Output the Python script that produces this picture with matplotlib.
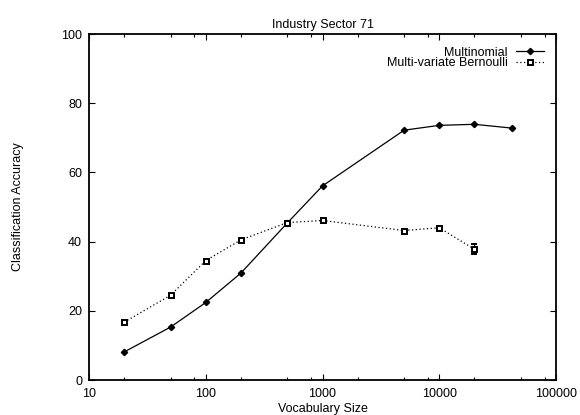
import matplotlib.pyplot as plt
from matplotlib.lines import Line2D
from matplotlib.ticker import LogLocator, NullFormatter

plt.rcParams["font.family"] = ["Liberation Sans", "DejaVu Sans"]
plt.rcParams["font.size"] = 9

vocab_multi = [20, 50, 100, 200, 500, 1000, 5000, 10000, 20000, 42000]
acc_multi = [8.1, 15.3, 22.4, 30.9, 45.4, 56.1, 72.2, 73.6, 73.9, 72.8]

vocab_bern = [20, 50, 100, 200, 500, 1000, 5000, 10000, 20000]
acc_bern = [16.7, 24.5, 34.5, 40.5, 45.5, 46.1, 43.2, 44.0, 37.8]
err_bern = [0.5, 0.5, 0.6, 0.5, 0.5, 0.6, 0.5, 0.5, 1.4]

fig = plt.figure(figsize=(5.8, 4.15), dpi=100)
ax = fig.add_axes([89 / 580, 35 / 415, 467 / 580, 346 / 415])

ax.plot(vocab_multi, acc_multi, color="black", lw=0.9, marker="D", ms=3.2)
ax.errorbar(vocab_bern, acc_bern, yerr=err_bern, color="black", lw=0.9,
            ls=(0, (1, 2)), marker="s", ms=3.6, mfc="white", mec="black",
            mew=1.4, elinewidth=0.8, capsize=2)

ax.set_xscale("log")
ax.set_xlim(10, 100000)
ax.set_ylim(0, 100)
ax.set_yticks([0, 20, 40, 60, 80, 100])
ax.set_xticks([10, 100, 1000, 10000, 100000])
ax.set_xticklabels(["10", "100", "1000", "10000", "100000"])
ax.xaxis.set_minor_locator(LogLocator(base=10, subs=(2, 5, 8)))
ax.xaxis.set_minor_formatter(NullFormatter())
ax.tick_params(which="both", direction="in", top=True, right=True)
ax.tick_params(which="major", length=4, width=0.8)
ax.tick_params(which="minor", length=2, width=0.8)
ax.tick_params(axis="x", pad=6)
ax.tick_params(axis="y", pad=5)
for s in ax.spines.values():
    s.set_linewidth(1.3)

ax.set_title("Industry Sector 71", fontsize=9, pad=4)
ax.set_xlabel("Vocabulary Size", labelpad=2)
ax.set_ylabel("Classification Accuracy", labelpad=27)

handles = [
    Line2D([], [], color="black", lw=0.9, marker="D", ms=3.2),
    Line2D([], [], color="black", lw=0.9, ls=(0, (1, 2)), marker="s", ms=3.6,
           mfc="white", mec="black", mew=1.4),
]
labels = ["Multinomial", "Multi-variate Bernoulli"]
ax.legend(handles, labels, loc="upper right", frameon=False,
          markerfirst=False, handlelength=2.2, handletextpad=0.65,
          labelspacing=-0.1, borderaxespad=0.6, fontsize=9)

fig.savefig("out.png", dpi=100)
